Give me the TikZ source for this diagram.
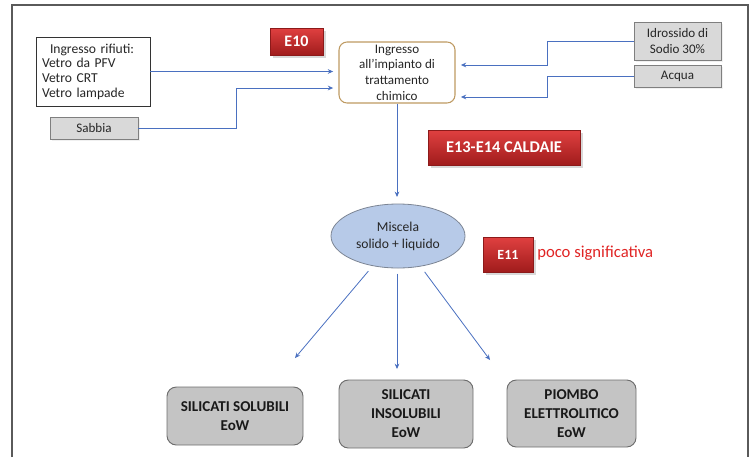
\documentclass[tikz,border=0pt]{standalone}
\usepackage{fontspec}
\setmainfont{Carlito}
\usetikzlibrary{arrows.meta,shapes.geometric,shadows,calc}

\definecolor{framegray}{HTML}{5A5A5A}
\definecolor{flowblue}{HTML}{4A70C0}
\definecolor{boxgray}{HTML}{D9D9D9}
\definecolor{boxline}{HTML}{7F7F7F}
\definecolor{resgray}{HTML}{C4C4C4}
\definecolor{resline}{HTML}{6E6E6E}
\definecolor{redtop}{HTML}{E04040}
\definecolor{redbot}{HTML}{A01C1C}
\definecolor{redline}{HTML}{8C1A1A}
\definecolor{plantline}{HTML}{BE9A62}
\definecolor{mixfill}{HTML}{B7CAE8}
\definecolor{mixline}{HTML}{7C8594}
\definecolor{txt}{HTML}{262626}
\definecolor{warnred}{HTML}{E02424}

\tikzset{
  arr/.style={draw=flowblue, line width=0.6pt, -{Stealth[length=4pt,width=3.5pt]}},
  feedbox/.style={draw=boxline, fill=boxgray, line width=0.6pt, text=txt,
    font=\fontsize{9.8}{12.2}\selectfont, align=center, inner sep=0pt,
    drop shadow={shadow xshift=1.2pt, shadow yshift=-1.2pt, opacity=0.12}},
  emitbox/.style={draw=redline, top color=redtop, bottom color=redbot, line width=0.5pt,
    text=white, font=\bfseries, inner sep=0pt,
    drop shadow={shadow xshift=2pt, shadow yshift=-2pt, opacity=0.3}},
  resultbox/.style={draw=resline, fill=resgray, line width=0.7pt, rounded corners=7pt,
    text=black!90, font=\bfseries\fontsize{11.3}{14.3}\selectfont, align=center, inner sep=0pt},
}

\begin{document}
\begin{tikzpicture}[x=0.75pt,y=-0.75pt]
  \useasboundingbox (0,0) rectangle (755,457);

  % outer frame (open at the bottom)
  \draw[framegray, line width=1.1pt] (12,457) -- (12,5) -- (748,5) -- (748,457);

  % incoming materials
  \node[draw=black!80, line width=0.6pt, fill=white, text=txt, minimum width=85.5pt,
        minimum height=51.75pt, text width=76.5pt, align=left, inner sep=0pt,
        font=\fontsize{10.2}{11}\selectfont] (rif) at (93,71.5)
        {\hspace*{6pt}Ingresso rifiuti:\\Vetro da PFV\\Vetro CRT\\Vetro lampade};
  \node[feedbox, minimum width=66pt, minimum height=16.5pt] (sab) at (94,128) {Sabbia};
  \node[feedbox, minimum width=65.25pt, minimum height=28.5pt] (idr) at (677.5,41)
        {Idrossido di\\Sodio 30\%};
  \node[feedbox, minimum width=65.25pt, minimum height=16.5pt] (acq) at (677.5,76) {Acqua};

  % treatment plant
  \node[draw=plantline, line width=0.8pt, fill=white, rounded corners=6pt, text=txt,
        minimum width=87pt, minimum height=45.75pt, align=center, inner sep=0pt,
        font=\fontsize{9.8}{11.8}\selectfont] (main) at (397,72.5)
        {Ingresso\\all’impianto di\\trattamento\\chimico};

  % mixture
  \node[ellipse, draw=mixline, fill=mixfill, line width=0.6pt, text=txt,
        minimum width=100.5pt, minimum height=48pt, inner sep=0pt, align=center,
        font=\fontsize{10.2}{12.7}\selectfont] (mix) at (398,236)
        {Miscela\\solido + liquido};

  % emission points
  \node[emitbox, minimum width=39.75pt, minimum height=20.25pt,
        font=\bfseries\fontsize{12}{14}\selectfont] (e10) at (296.5,41.5) {E10};
  \node[emitbox, minimum width=114pt, minimum height=26.25pt,
        font=\bfseries\fontsize{12.3}{14}\selectfont] (e13) at (504,147.5) {E13-E14 CALDAIE};
  \node[emitbox, minimum width=37.5pt, minimum height=26.25pt,
        font=\bfseries\fontsize{10.5}{12}\selectfont] (e11) at (508,254.5) {E11};
  \node[anchor=west, text=warnred, inner sep=0pt, font=\fontsize{12.5}{14}\selectfont]
        (poco) at (537,253) {poco significativa};

  % products
  \node[resultbox, minimum width=102pt, minimum height=43.5pt] (sol) at (235,416)
        {SILICATI SOLUBILI\\EoW};
  \node[resultbox, minimum width=100.5pt, minimum height=51pt] (ins) at (406,414)
        {SILICATI\\INSOLUBILI\\EoW};
  \node[resultbox, minimum width=96.75pt, minimum height=50.25pt] (pio) at (571.5,413.5)
        {PIOMBO\\ELETTROLITICO\\EoW};

  % bend points and free arrow ends
  \coordinate (jS) at (236,88);
  \coordinate (jI) at (547,65);
  \coordinate (jA) at (547,97);
  \coordinate (tipL) at (295,358);
  \coordinate (tipM) at (397,369);
  \coordinate (tipR) at (490,360);

  % feed lines into the plant
  \draw[arr, shorten >=4pt] (rif.east) -- (rif.east -| main.west);
  \draw[arr, shorten >=4pt] (sab.east) -| (jS) -- (jS -| main.west);
  \draw[arr, shorten >=4pt] (idr.west) -| (jI) -- (jI -| main.east);
  \draw[arr, shorten >=4pt] (acq.west) -| (jA) -- (jA -| main.east);

  % plant to mixture
  \draw[arr, shorten >=5pt] (main.south -| tipM) -- (mix.north -| tipM);

  % mixture to products
  \draw[arr, shorten <=5pt] (mix) -- (tipL);
  \draw[arr, shorten <=4pt] (mix.south -| tipM) -- (tipM);
  \draw[arr, shorten <=5pt] (mix) -- (tipR);
\end{tikzpicture}
\end{document}
